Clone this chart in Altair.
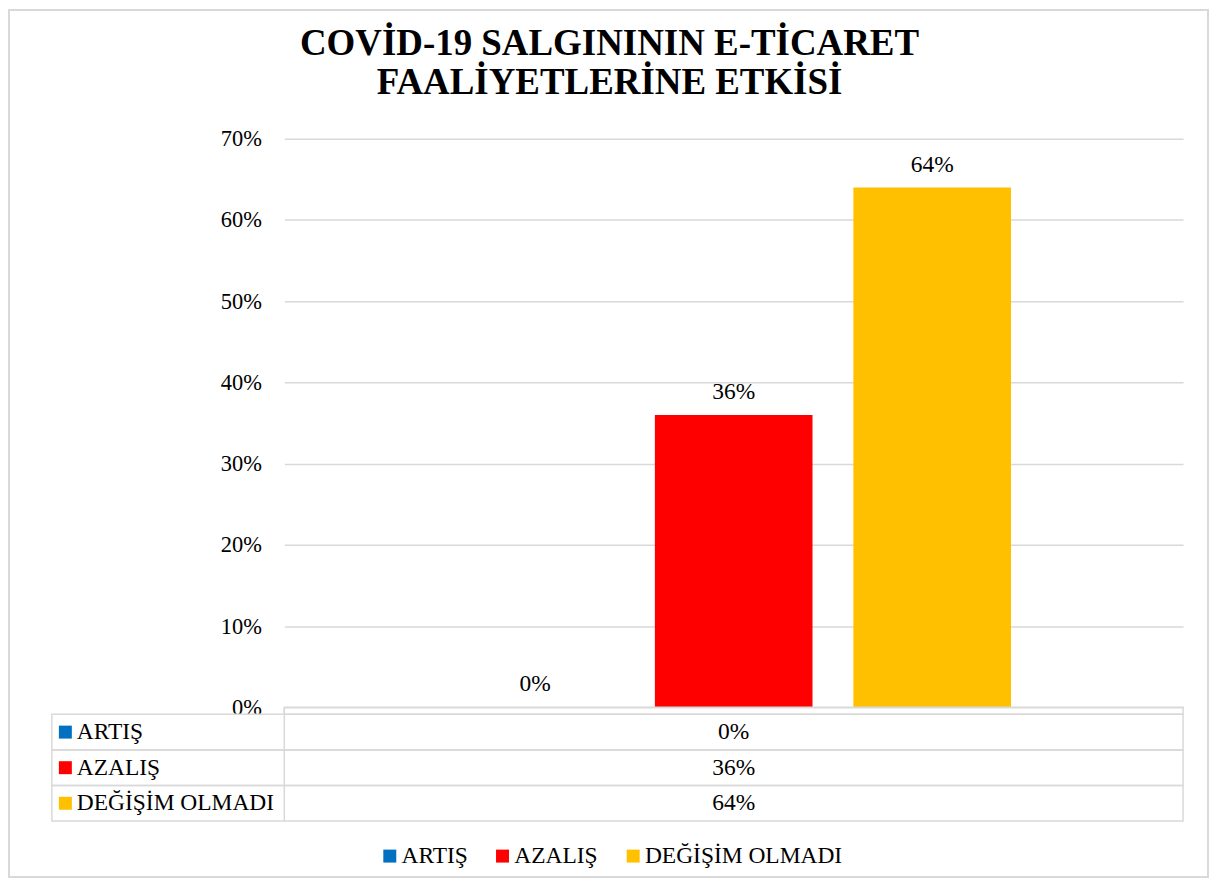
import altair as alt
import pandas as pd

# ---- data ----
series = ["ARTIŞ", "AZALIŞ", "DEĞİŞİM OLMADI"]
values = [0, 36, 64]
colors = ["#0070C0", "#FF0000", "#FFC000"]
category = [""]  # single unnamed category (Excel clustered column)
title_lines = ["COVİD-19 SALGINININ E-TİCARET", "FAALİYETLERİNE ETKİSİ"]
y_ticks = [0, 10, 20, 30, 40, 50, 60, 70]

FONT = "Liberation Serif"
GRID = "#D9D9D9"
W, H = 901, 570
FS = 23.5

df = pd.DataFrame({
    "cat": category * len(series),
    "series": series,
    "value": values,
})
df["label"] = [f"{v}%" for v in values]

color_enc = alt.Color(
    "series:N",
    scale=alt.Scale(domain=series, range=colors),
    legend=alt.Legend(
        title=None, orient="none", direction="horizontal",
        legendX=94, legendY=707, symbolType="square", symbolSize=169,
        symbolStrokeWidth=0, labelFont=FONT, labelFontSize=FS, labelLimit=0,
        labelColor="#000000", columnPadding=23, labelOffset=0, padding=0,
    ),
)

x_enc = alt.X("cat:N", axis=None, scale=alt.Scale(paddingInner=0, paddingOuter=0.3102))
xoff_enc = alt.XOffset("series:N", sort=series,
                       scale=alt.Scale(domain=series, paddingInner=0.206, paddingOuter=0))
y_enc = alt.Y(
    "value:Q",
    scale=alt.Scale(domain=[0, 70], nice=False),
    axis=alt.Axis(
        values=y_ticks, labelExpr="datum.value + '%'", title=None,
        grid=True, gridColor=GRID, gridWidth=1.5, domain=False, ticks=False,
        tickSize=0, labelPadding=23, labelFont=FONT, labelFontSize=22.5,
        labelColor="#000000",
    ),
)

base = alt.Chart(df)

bars = base.mark_bar().encode(x=x_enc, xOffset=xoff_enc, y=y_enc, color=color_enc)

bar_labels = base.mark_text(dy=-23, baseline="middle", font=FONT, fontSize=FS,
                            color="#000000").encode(
    x=x_enc, xOffset=xoff_enc,
    y=alt.Y("value:Q", scale=alt.Scale(domain=[0, 70], nice=False), axis=None),
    text="label:N",
)

# ---- data table below the plot ----
row_y = alt.Y("series:N", axis=None,
              scale=alt.Scale(domain=series, range=[577, 684], paddingInner=0, paddingOuter=0))

row_rects = base.mark_rect(filled=False, stroke=GRID, strokeWidth=1.5).encode(
    y=row_y, x=alt.value(-233), x2=alt.value(W),
)
header_rect = alt.Chart(pd.DataFrame({"a": [0]})).mark_rect(
    filled=False, stroke=GRID, strokeWidth=1.5).encode(
    x=alt.value(0), x2=alt.value(W), y=alt.value(H), y2=alt.value(577),
)
col_sep = alt.Chart(pd.DataFrame({"a": [0]})).mark_rule(
    stroke=GRID, strokeWidth=1.5).encode(
    x=alt.value(0), y=alt.value(H), y2=alt.value(684),
)
row_markers = base.mark_point(shape="square", filled=True, size=169, opacity=1).encode(
    x=alt.value(-219.5), y=row_y,
    color=alt.Color("series:N", scale=alt.Scale(domain=series, range=colors), legend=None),
)
row_names = base.mark_text(align="left", baseline="middle", font=FONT, fontSize=FS,
                           color="#000000").encode(
    x=alt.value(-208), y=row_y, text="series:N",
)
row_values = base.mark_text(align="center", baseline="middle", font=FONT, fontSize=FS,
                            color="#000000").encode(
    x=x_enc, y=row_y, text="label:N",
)

# ---- title and frame ----
one = pd.DataFrame({"a": [0]})
title1 = alt.Chart(one).mark_text(text=title_lines[0], font=FONT, fontSize=37,
                                  fontWeight="bold", align="center",
                                  baseline="alphabetic", color="#000000").encode(
    x=alt.value(326), y=alt.value(-84))
title2 = alt.Chart(one).mark_text(text=title_lines[1], font=FONT, fontSize=37,
                                  fontWeight="bold", align="center",
                                  baseline="alphabetic", color="#000000").encode(
    x=alt.value(326), y=alt.value(-45))
frame = alt.Chart(one).mark_rect(filled=False, stroke=GRID, strokeWidth=2).encode(
    x=alt.value(-276), x2=alt.value(926), y=alt.value(-129), y2=alt.value(740))

chart = alt.layer(
    frame, bars, bar_labels, header_rect, row_rects, col_sep,
    row_markers, row_names, row_values, title1, title2,
).resolve_scale(y="independent").properties(
    width=W, height=H, padding=0, background="white",
).configure_view(stroke=None)

chart.save("out.html", embed_options={"renderer": "svg", "actions": False})
